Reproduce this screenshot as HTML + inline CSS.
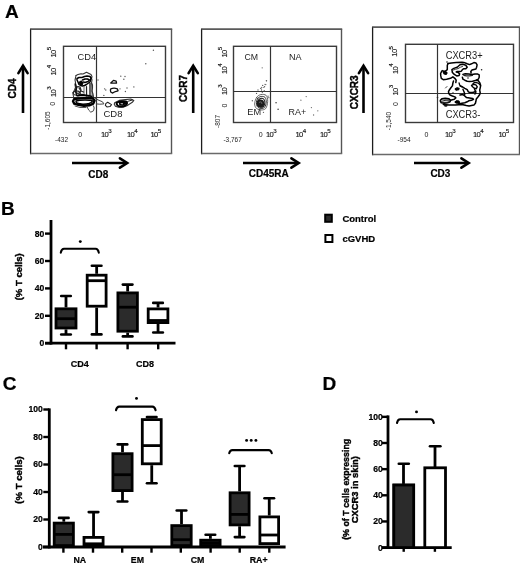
<!DOCTYPE html>
<html><head><meta charset="utf-8"><style>
html,body{margin:0;padding:0;background:#fff;}
svg{display:block;font-family:"Liberation Sans", sans-serif;filter:grayscale(1);}
</style></head><body>
<svg width="520" height="567" viewBox="0 0 520 567" font-family='"Liberation Sans", sans-serif'>
<rect width="520" height="567" fill="#fff"/>
<text x="4.9" y="17.6" font-size="19" font-weight="bold" text-anchor="start" fill="#000" stroke="#000" stroke-width="0.2">A</text>
<text x="1.0" y="215.1" font-size="19" font-weight="bold" text-anchor="start" fill="#000" stroke="#000" stroke-width="0.2">B</text>
<text x="2.8" y="389.7" font-size="19" font-weight="bold" text-anchor="start" fill="#000" stroke="#000" stroke-width="0.2">C</text>
<text x="322.5" y="390.3" font-size="19" font-weight="bold" text-anchor="start" fill="#000" stroke="#000" stroke-width="0.2">D</text>
<line x1="30.6" y1="28.5" x2="30.6" y2="154.29999999999998" stroke="#1c1c1c" stroke-width="1.3" stroke-linecap="butt"/>
<line x1="30.6" y1="29.1" x2="172.2" y2="29.1" stroke="#5a5a5a" stroke-width="1.6" stroke-linecap="butt"/>
<line x1="171.5" y1="29.1" x2="171.5" y2="153.6" stroke="#555" stroke-width="1.4" stroke-linecap="butt"/>
<line x1="30.6" y1="153.6" x2="172.2" y2="153.6" stroke="#6a6a6a" stroke-width="1.5" stroke-linecap="butt"/>
<rect x="63.5" y="46.3" width="102" height="76.2" fill="none" stroke="#3a3a3a" stroke-width="1.4"/>
<line x1="96.5" y1="46" x2="96.5" y2="123" stroke="#333" stroke-width="1.2" stroke-linecap="butt"/>
<line x1="63" y1="97.5" x2="166" y2="97.5" stroke="#333" stroke-width="1.2" stroke-linecap="butt"/>
<line x1="201.6" y1="28.5" x2="201.6" y2="154.29999999999998" stroke="#1c1c1c" stroke-width="1.3" stroke-linecap="butt"/>
<line x1="201.6" y1="29.1" x2="342.2" y2="29.1" stroke="#5a5a5a" stroke-width="1.6" stroke-linecap="butt"/>
<line x1="341.5" y1="29.1" x2="341.5" y2="153.6" stroke="#555" stroke-width="1.4" stroke-linecap="butt"/>
<line x1="201.6" y1="153.6" x2="342.2" y2="153.6" stroke="#6a6a6a" stroke-width="1.5" stroke-linecap="butt"/>
<rect x="233.5" y="46.3" width="103" height="76.2" fill="none" stroke="#3a3a3a" stroke-width="1.4"/>
<line x1="270.5" y1="46" x2="270.5" y2="123" stroke="#333" stroke-width="1.2" stroke-linecap="butt"/>
<line x1="233" y1="91.5" x2="337" y2="91.5" stroke="#333" stroke-width="1.2" stroke-linecap="butt"/>
<line x1="372.6" y1="26.5" x2="372.6" y2="155.29999999999998" stroke="#1c1c1c" stroke-width="1.3" stroke-linecap="butt"/>
<line x1="372.6" y1="27.1" x2="520.2" y2="27.1" stroke="#5a5a5a" stroke-width="1.6" stroke-linecap="butt"/>
<line x1="519.5" y1="27.1" x2="519.5" y2="154.6" stroke="#555" stroke-width="1.4" stroke-linecap="butt"/>
<line x1="372.6" y1="154.6" x2="520.2" y2="154.6" stroke="#6a6a6a" stroke-width="1.5" stroke-linecap="butt"/>
<rect x="405.5" y="44.3" width="108" height="78.2" fill="none" stroke="#3a3a3a" stroke-width="1.4"/>
<line x1="437.5" y1="44" x2="437.5" y2="123" stroke="#333" stroke-width="1.2" stroke-linecap="butt"/>
<line x1="405" y1="93.5" x2="514" y2="93.5" stroke="#333" stroke-width="1.2" stroke-linecap="butt"/>
<line x1="23.0" y1="113" x2="23.0" y2="66.5" stroke="#000" stroke-width="2.6" stroke-linecap="butt"/>
<polyline points="18.4,73.1 23.0,65.8 27.6,73.1" fill="none" stroke="#000" stroke-width="2.6" stroke-linejoin="miter" stroke-linecap="round"/>
<line x1="193.2" y1="113" x2="193.2" y2="66.5" stroke="#000" stroke-width="2.6" stroke-linecap="butt"/>
<polyline points="188.6,73.1 193.2,65.8 197.79999999999998,73.1" fill="none" stroke="#000" stroke-width="2.6" stroke-linejoin="miter" stroke-linecap="round"/>
<line x1="363.5" y1="113" x2="363.5" y2="66.5" stroke="#000" stroke-width="2.6" stroke-linecap="butt"/>
<polyline points="358.9,73.1 363.5,65.8 368.1,73.1" fill="none" stroke="#000" stroke-width="2.6" stroke-linejoin="miter" stroke-linecap="round"/>
<line x1="72" y1="163" x2="126.5" y2="163" stroke="#000" stroke-width="2.6" stroke-linecap="butt"/>
<polyline points="119.9,158.3 127.2,163 119.9,167.7" fill="none" stroke="#000" stroke-width="2.6" stroke-linejoin="miter" stroke-linecap="round"/>
<line x1="243" y1="163" x2="298" y2="163" stroke="#000" stroke-width="2.6" stroke-linecap="butt"/>
<polyline points="291.4,158.3 298.7,163 291.4,167.7" fill="none" stroke="#000" stroke-width="2.6" stroke-linejoin="miter" stroke-linecap="round"/>
<line x1="414" y1="163" x2="468" y2="163" stroke="#000" stroke-width="2.6" stroke-linecap="butt"/>
<polyline points="461.4,158.3 468.7,163 461.4,167.7" fill="none" stroke="#000" stroke-width="2.6" stroke-linejoin="miter" stroke-linecap="round"/>
<text x="16" y="88.5" font-size="10" font-weight="bold" text-anchor="middle" fill="#000" transform="rotate(-90 16 88.5)" stroke="#000" stroke-width="0.4">CD4</text>
<text x="186.7" y="88.5" font-size="10" font-weight="bold" text-anchor="middle" fill="#000" transform="rotate(-90 186.7 88.5)" stroke="#000" stroke-width="0.4">CCR7</text>
<text x="358.5" y="92.3" font-size="10" font-weight="bold" text-anchor="middle" fill="#000" transform="rotate(-90 358.5 92.3)" stroke="#000" stroke-width="0.4">CXCR3</text>
<text x="98.2" y="177.7" font-size="10" font-weight="bold" text-anchor="middle" fill="#000" stroke="#000" stroke-width="0.2">CD8</text>
<text x="268.7" y="177.4" font-size="10" font-weight="bold" text-anchor="middle" fill="#000" stroke="#000" stroke-width="0.2">CD45RA</text>
<text x="440.4" y="177" font-size="10" font-weight="bold" text-anchor="middle" fill="#000" stroke="#000" stroke-width="0.2">CD3</text>
<text x="77.5" y="59.6" font-size="9.8" fill="#1e1e1e" textLength="18.6" lengthAdjust="spacingAndGlyphs">CD4</text>
<text x="103.5" y="117.4" font-size="9.8" fill="#1e1e1e" textLength="19" lengthAdjust="spacingAndGlyphs">CD8</text>
<text x="244.5" y="59.5" font-size="9.6" fill="#1e1e1e" textLength="13.6" lengthAdjust="spacingAndGlyphs">CM</text>
<text x="288.9" y="59.5" font-size="9.6" fill="#1e1e1e" textLength="12.6" lengthAdjust="spacingAndGlyphs">NA</text>
<text x="247.3" y="114.9" font-size="9.6" fill="#1e1e1e" textLength="13.8" lengthAdjust="spacingAndGlyphs">EM</text>
<text x="288.5" y="114.9" font-size="9.6" fill="#1e1e1e" textLength="17.6" lengthAdjust="spacingAndGlyphs">RA+</text>
<text x="445.7" y="58.5" font-size="10.6" fill="#1e1e1e" textLength="37" lengthAdjust="spacingAndGlyphs">CXCR3+</text>
<text x="445.7" y="118" font-size="10.6" fill="#1e1e1e" textLength="34.6" lengthAdjust="spacingAndGlyphs">CXCR3-</text>
<text x="55.5" y="57.5" font-size="7.6" letter-spacing="-0.6" fill="#151515" stroke="#151515" stroke-width="0.15" transform="rotate(-90 55.5 57.5)">10<tspan dy="-4.9" font-size="6.2">5</tspan></text>
<text x="55.5" y="75.5" font-size="7.6" letter-spacing="-0.6" fill="#151515" stroke="#151515" stroke-width="0.15" transform="rotate(-90 55.5 75.5)">10<tspan dy="-4.9" font-size="6.2">4</tspan></text>
<text x="55.5" y="97" font-size="7.6" letter-spacing="-0.6" fill="#151515" stroke="#151515" stroke-width="0.15" transform="rotate(-90 55.5 97)">10<tspan dy="-4.9" font-size="6.2">3</tspan></text>
<text x="55.5" y="103.8" font-size="7" fill="#222" transform="rotate(-90 55.5 103.8)" text-anchor="middle">0</text>
<text x="49.5" y="120.5" font-size="6.5" fill="#222" transform="rotate(-90 49.5 120.5)" text-anchor="middle">-1,605</text>
<text x="226.5" y="57.5" font-size="7.6" letter-spacing="-0.6" fill="#151515" stroke="#151515" stroke-width="0.15" transform="rotate(-90 226.5 57.5)">10<tspan dy="-4.9" font-size="6.2">5</tspan></text>
<text x="226.5" y="74" font-size="7.6" letter-spacing="-0.6" fill="#151515" stroke="#151515" stroke-width="0.15" transform="rotate(-90 226.5 74)">10<tspan dy="-4.9" font-size="6.2">4</tspan></text>
<text x="226.5" y="95" font-size="7.6" letter-spacing="-0.6" fill="#151515" stroke="#151515" stroke-width="0.15" transform="rotate(-90 226.5 95)">10<tspan dy="-4.9" font-size="6.2">3</tspan></text>
<text x="226.5" y="105.5" font-size="7" fill="#222" transform="rotate(-90 226.5 105.5)" text-anchor="middle">0</text>
<text x="219.5" y="121.5" font-size="6.5" fill="#222" transform="rotate(-90 219.5 121.5)" text-anchor="middle">-807</text>
<text x="397.5" y="56.7" font-size="7.6" letter-spacing="-0.6" fill="#151515" stroke="#151515" stroke-width="0.15" transform="rotate(-90 397.5 56.7)">10<tspan dy="-4.9" font-size="6.2">5</tspan></text>
<text x="397.5" y="74" font-size="7.6" letter-spacing="-0.6" fill="#151515" stroke="#151515" stroke-width="0.15" transform="rotate(-90 397.5 74)">10<tspan dy="-4.9" font-size="6.2">4</tspan></text>
<text x="397.5" y="95.5" font-size="7.6" letter-spacing="-0.6" fill="#151515" stroke="#151515" stroke-width="0.15" transform="rotate(-90 397.5 95.5)">10<tspan dy="-4.9" font-size="6.2">3</tspan></text>
<text x="397.5" y="104" font-size="7" fill="#222" transform="rotate(-90 397.5 104)" text-anchor="middle">0</text>
<text x="390.5" y="121" font-size="6.5" fill="#222" transform="rotate(-90 390.5 121)" text-anchor="middle">-1,540</text>
<text x="101" y="137" font-size="7.6" letter-spacing="-0.6" fill="#151515" stroke="#151515" stroke-width="0.15">10<tspan dy="-4.4" font-size="6.2">3</tspan></text>
<text x="127" y="137" font-size="7.6" letter-spacing="-0.6" fill="#151515" stroke="#151515" stroke-width="0.15">10<tspan dy="-4.4" font-size="6.2">4</tspan></text>
<text x="150.5" y="137" font-size="7.6" letter-spacing="-0.6" fill="#151515" stroke="#151515" stroke-width="0.15">10<tspan dy="-4.4" font-size="6.2">5</tspan></text>
<text x="55" y="142" font-size="6.5" fill="#222">-432</text>
<text x="78.2" y="137" font-size="7" fill="#222">0</text>
<text x="266" y="137" font-size="7.6" letter-spacing="-0.6" fill="#151515" stroke="#151515" stroke-width="0.15">10<tspan dy="-4.4" font-size="6.2">3</tspan></text>
<text x="295.5" y="137" font-size="7.6" letter-spacing="-0.6" fill="#151515" stroke="#151515" stroke-width="0.15">10<tspan dy="-4.4" font-size="6.2">4</tspan></text>
<text x="320" y="137" font-size="7.6" letter-spacing="-0.6" fill="#151515" stroke="#151515" stroke-width="0.15">10<tspan dy="-4.4" font-size="6.2">5</tspan></text>
<text x="223.4" y="142" font-size="6.5" fill="#222">-3,767</text>
<text x="258.8" y="137" font-size="7" fill="#222">0</text>
<text x="445" y="137" font-size="7.6" letter-spacing="-0.6" fill="#151515" stroke="#151515" stroke-width="0.15">10<tspan dy="-4.4" font-size="6.2">3</tspan></text>
<text x="473" y="137" font-size="7.6" letter-spacing="-0.6" fill="#151515" stroke="#151515" stroke-width="0.15">10<tspan dy="-4.4" font-size="6.2">4</tspan></text>
<text x="498.5" y="137" font-size="7.6" letter-spacing="-0.6" fill="#151515" stroke="#151515" stroke-width="0.15">10<tspan dy="-4.4" font-size="6.2">5</tspan></text>
<text x="397.5" y="142" font-size="6.5" fill="#222">-954</text>
<text x="424.5" y="137" font-size="7" fill="#222">0</text>
<path d="M76,75.5 L78,74.5 L81,73.75 L83,74 L85,73 L86.5,72.25 L89,73.5 L91,74.5 L92,76.5 L91.5,78.5 L92,80 L91.5,83 L92.5,85 L92.5,88 L92,91 L93,94 L93.5,96.5" fill="none" stroke="#333" stroke-width="1.1" stroke-linejoin="round" stroke-linecap="round"/>
<path d="M76,75.5 L75.5,78 L75,80 L75.5,82.5 L75,85 L75.5,87.5 L74.5,90 L73.5,92 L73,94 L73.5,96.5" fill="none" stroke="#333" stroke-width="1.1" stroke-linejoin="round" stroke-linecap="round"/>
<path d="M77,78.5 L79,77.5 L82,77.5 L84.5,76.5 L87,76 L90,76.5 L91,78 L90.5,80 L90,82 L88.5,83 L86.5,84.5 L84.5,85.5 L82.5,86 L80.5,85.5 L79,84.5 L78,82 L77,80 Z" fill="none" stroke="#000" stroke-width="1.5" stroke-linejoin="round" stroke-linecap="round"/>
<path d="M80,81.5 L81.5,81 L83,83 L82,85 L80.5,84.5 L79.5,83 Z" fill="#000" stroke="#000" stroke-width="1.2" stroke-linejoin="round" stroke-linecap="round"/>
<path d="M82.5,80 L85,79 L87.5,79 L89.5,80 L88,81.5 L85,82.5 L83.5,82" fill="none" stroke="#000" stroke-width="1.4" stroke-linejoin="round" stroke-linecap="round"/>
<path d="M90,83.5 L90,96" fill="none" stroke="#111" stroke-width="1.3" stroke-linejoin="round" stroke-linecap="round"/>
<path d="M91.7,83 L92.2,96" fill="none" stroke="#333" stroke-width="1.0" stroke-linejoin="round" stroke-linecap="round"/>
<path d="M86.5,86.5 L86.6,96" fill="none" stroke="#222" stroke-width="1.2" stroke-linejoin="round" stroke-linecap="round"/>
<path d="M84,86.5 L84,95" fill="none" stroke="#555" stroke-width="0.9" stroke-linejoin="round" stroke-linecap="round"/>
<path d="M76.5,87.5 L78,86.5 L80,87 L81,90 L80,92.5 L78,93.5 L76,92.5 L75.5,90 Z" fill="none" stroke="#222" stroke-width="1.2" stroke-linejoin="round" stroke-linecap="round"/>
<path d="M72.8,92.8 L75.5,90.7 L79,91.4 L80.4,93.5 L78.3,95.5 L74.2,94.8 Z" fill="none" stroke="#222" stroke-width="1.1" stroke-linejoin="round" stroke-linecap="round"/>
<path d="M78,95.5 L82,94.5 L86,95.5 L89,96" fill="none" stroke="#111" stroke-width="1.3" stroke-linejoin="round" stroke-linecap="round"/>
<path d="M74.2,99 L80.4,98.4 L87.3,97.9 L92.9,98.5 L94.6,100.6 L93.3,103.6 L89.4,105.3 L83.9,105.8 L78.3,104.8 L74.2,103.6 L73,101.3 Z" fill="none" stroke="#000" stroke-width="2.4" stroke-linejoin="round" stroke-linecap="round"/>
<path d="M75.5,84 L76.5,88 L75.8,92 L76.8,95.5" fill="none" stroke="#111" stroke-width="1.5" stroke-linejoin="round" stroke-linecap="round"/>
<path d="M77.5,95.8 L83,95.2 L88,95.6 L92,96.4" fill="none" stroke="#000" stroke-width="1.5" stroke-linejoin="round" stroke-linecap="round"/>
<path d="M79,88 L81,91 L83.5,92" fill="none" stroke="#222" stroke-width="1.2" stroke-linejoin="round" stroke-linecap="round"/>
<path d="M76,101 C80,99.8 90,99.6 92.5,101 C91.5,103 88,104.2 83,104.2 C78,104 75.5,103 76,101 Z" fill="none" stroke="#000" stroke-width="1.5"/>
<ellipse cx="84.5" cy="102.2" rx="4.5" ry="0.8" fill="#fff"/>
<path d="M94.9,98.3 L99.1,100.4 L102.5,101.8 L103.9,103.9 L99.8,104.2 L96.3,103.9" fill="none" stroke="#444" stroke-width="1.0" stroke-linejoin="round" stroke-linecap="round"/>
<path d="M87.3,107.3 L88.7,110.1 L90.8,112.2 L93.5,110.8 L94.2,108 L93.5,105.9" fill="none" stroke="#444" stroke-width="1.0" stroke-linejoin="round" stroke-linecap="round"/>
<path d="M75,106 L80,107.5 L86,107.5" fill="none" stroke="#555" stroke-width="1.0" stroke-linejoin="round" stroke-linecap="round"/>
<g transform="translate(100,75) scale(0.07692307692307693)">
<path d="M140,105 L175,70 L210,80 L215,105 Z" fill="none" stroke="#111" stroke-width="16.900000000000002" stroke-linejoin="round" stroke-linecap="round"/>
<path d="M140,180 C160,172 200,170 225,180 L235,205 L200,215 L160,235 L140,222 L135,195 Z" fill="none" stroke="#111" stroke-width="16.900000000000002" stroke-linejoin="round" stroke-linecap="round"/>
<path d="M75,372 L100,355 L150,385 L130,410 L90,415 L70,395 Z" fill="none" stroke="#222" stroke-width="14.3" stroke-linejoin="round" stroke-linecap="round"/>
<path d="M190,362 L250,330 L330,320 L400,312 L440,330 L420,355 L380,380 L350,400 L300,420 L240,420 L200,405 L185,380 Z" fill="none" stroke="#333" stroke-width="14.3" stroke-linejoin="round" stroke-linecap="round"/>
<path d="M215,365 C240,340 320,335 350,350 C360,380 330,405 280,410 C240,412 215,395 215,365 Z" fill="none" stroke="#000" stroke-width="26.0" stroke-linejoin="round" stroke-linecap="round"/>
<path d="M245,350 L330,340 L345,375 L300,400 L250,395 Z" fill="#000"/>
<path d="M260,372 L300,368 L290,385 Z" fill="#fff"/>
<path d="M370,340 L420,325" fill="none" stroke="#222" stroke-width="13.0" stroke-linejoin="round" stroke-linecap="round"/>
<circle cx="270" cy="15" r="9.1" fill="#555"/>
<circle cx="310" cy="55" r="9.1" fill="#555"/>
<circle cx="325" cy="20" r="9.1" fill="#555"/>
<circle cx="260" cy="180" r="9.1" fill="#555"/>
<circle cx="330" cy="215" r="9.1" fill="#555"/>
<circle cx="440" cy="155" r="9.1" fill="#555"/>
<circle cx="60" cy="180" r="9.1" fill="#555"/>
<circle cx="75" cy="195" r="9.1" fill="#555"/>
<circle cx="50" cy="265" r="9.1" fill="#555"/>
</g>
<circle cx="153.4" cy="50.3" r="0.7" fill="#555"/>
<circle cx="145.8" cy="63.8" r="0.7" fill="#555"/>
<circle cx="98" cy="80" r="0.7" fill="#555"/>
<circle cx="127" cy="88" r="0.7" fill="#555"/>
<g transform="translate(245,80) scale(0.07692307692307693)">
<path d="M150,230 C170,185 240,175 275,200 C305,235 300,320 270,370 C240,400 170,395 140,360 C115,320 125,270 150,230 Z" fill="none" stroke="#555" stroke-width="11.700000000000001" stroke-linejoin="round" stroke-linecap="round"/>
<path d="M165,240 C185,210 235,205 260,225 C285,255 280,320 255,355 C230,380 180,375 160,345 C140,310 145,270 165,240 Z" fill="none" stroke="#333" stroke-width="13.0" stroke-linejoin="round" stroke-linecap="round"/>
<path d="M180,255 C195,235 230,232 245,250 C265,275 262,320 240,345 C220,362 185,355 172,330 C160,305 165,275 180,255 Z" fill="none" stroke="#222" stroke-width="14.3" stroke-linejoin="round" stroke-linecap="round"/>
<ellipse cx="200" cy="305" rx="50" ry="52" fill="#1a1a1a"/>
<path d="M185,290 C200,275 225,285 220,305" fill="none" stroke="#888" stroke-width="9.1" stroke-linejoin="round" stroke-linecap="round"/>
<circle cx="230" cy="70" r="8.450000000000001" fill="#555"/>
<circle cx="245" cy="95" r="8.450000000000001" fill="#555"/>
<circle cx="255" cy="85" r="8.450000000000001" fill="#555"/>
<circle cx="270" cy="60" r="8.450000000000001" fill="#555"/>
<circle cx="205" cy="110" r="8.450000000000001" fill="#555"/>
<circle cx="215" cy="130" r="8.450000000000001" fill="#555"/>
<circle cx="280" cy="10" r="8.450000000000001" fill="#555"/>
<circle cx="150" cy="175" r="8.450000000000001" fill="#555"/>
<circle cx="95" cy="270" r="8.450000000000001" fill="#555"/>
<circle cx="300" cy="210" r="8.450000000000001" fill="#555"/>
<circle cx="310" cy="230" r="8.450000000000001" fill="#555"/>
<circle cx="405" cy="295" r="8.450000000000001" fill="#555"/>
<circle cx="430" cy="380" r="8.450000000000001" fill="#555"/>
<circle cx="240" cy="420" r="8.450000000000001" fill="#555"/>
<circle cx="225" cy="160" r="8.450000000000001" fill="#555"/>
<circle cx="250" cy="140" r="8.450000000000001" fill="#555"/>
</g>
<circle cx="276" cy="102.7" r="0.65" fill="#666"/>
<circle cx="278.2" cy="109.3" r="0.65" fill="#666"/>
<circle cx="300.9" cy="100.2" r="0.65" fill="#666"/>
<circle cx="306.2" cy="96.6" r="0.65" fill="#666"/>
<circle cx="311.4" cy="107.6" r="0.65" fill="#666"/>
<circle cx="313.6" cy="115" r="0.65" fill="#666"/>
<circle cx="317.8" cy="110.8" r="0.65" fill="#666"/>
<circle cx="262.2" cy="67.8" r="0.65" fill="#666"/>
<circle cx="266.4" cy="80.7" r="0.65" fill="#666"/>
<circle cx="265" cy="84.3" r="0.65" fill="#666"/>
<circle cx="261.7" cy="87.5" r="0.65" fill="#666"/>
<circle cx="258" cy="90" r="0.65" fill="#666"/>
<path d="M448,63.6 L451.4,62.9 L456.2,62.6 L462,62.2 L463.8,62.4 L467.2,63.8 L469.6,64.6 L471.5,63.8 L473.9,62.6 L475.9,62.9 L477.1,64.8 L476.6,67.2 L475.9,69.1 L473.9,69.6 L472,70.1 L470.8,71.5 L471.1,73" fill="none" stroke="#000" stroke-width="1.5" stroke-linejoin="round" stroke-linecap="round"/>
<path d="M448,63.6 L447.3,65.3 L447.3,67.2 L447.3,69.6 L445.7,71 L444.6,71.5 L442.2,70.6 L441.8,71.1 L440.6,73.5 L440.8,75.9 L441.3,78.3 L443.3,79.7 L446.6,79.2 L450.5,78.3 L452.9,76.8 L454.8,78.3 L456.2,80.2 L455.8,82.6" fill="none" stroke="#000" stroke-width="1.5" stroke-linejoin="round" stroke-linecap="round"/>
<path d="M453.5,81 L452.9,83 L452.4,85.9 L450.9,87.8 L449.5,89.7 L448.5,91.7 L448.8,93.6 L450,95 L452.4,96 L454.8,96.9 L455.8,97.9 L454.3,99.3 L452.4,99.8 L450.5,100.3" fill="none" stroke="#000" stroke-width="1.5" stroke-linejoin="round" stroke-linecap="round"/>
<path d="M443.3,71.5 L445.2,71.3 L447.1,73 L446.1,74.4 L444.2,73.9 L443.3,72.5 Z" fill="#000" stroke="#000" stroke-width="1.2" stroke-linejoin="round" stroke-linecap="round"/>
<path d="M451.9,69.6 L453.8,68.4 L457.2,67.2 L460,64.8 L462.9,64.3 L465.8,65.3 L467.2,67.2 L465.8,68.7 L463.8,68.7 L462.4,69.6 L461.4,71.1 L460,71.5 L457.2,71.5 L456.2,72 L458.2,72.5 L459.6,73.9 L459.1,75.4 L456.7,75.9 L454.3,74.4 L452.4,72.5 Z" fill="none" stroke="#000" stroke-width="1.5" stroke-linejoin="round" stroke-linecap="round"/>
<path d="M453.5,70 L455.5,69.3 L458,68.6 L460.5,67.2 L462.5,66.5" fill="none" stroke="#333" stroke-width="1.0" stroke-linejoin="round" stroke-linecap="round"/>
<path d="M462.9,74.4 L465.3,73.7 L468.7,73.9 L472,74.4 L474.9,73.9 L477.3,73.9 L479.2,74.9 L479.2,77.3 L478.3,79.2 L476.3,80.2" fill="none" stroke="#000" stroke-width="1.5" stroke-linejoin="round" stroke-linecap="round"/>
<path d="M463.8,75.4 L466.3,75.9 L469.6,75.9 L472.5,75.4" fill="none" stroke="#222" stroke-width="1.2" stroke-linejoin="round" stroke-linecap="round"/>
<path d="M462.4,77.3 L462.9,79.2 L464.8,80.2 L467.2,81.2 L469.6,81.6 L472.5,81.2 L474.4,80.7 L476.8,80.2 L478.3,80.7 L479.7,82.6 L480.7,85.4 L480.2,87.8 L479.7,90.2 L480.2,92.6 L479.7,94.5 L478.3,96.5 L476.3,98.9 L475.9,101.3 L475.4,103.2 L473.9,105.1 L471.5,105.6 L469.1,106.1 L466.3,105.6 L462,104.6 L455.3,105.1 L449,105.1 L443.3,104.6" fill="none" stroke="#000" stroke-width="1.5" stroke-linejoin="round" stroke-linecap="round"/>
<path d="M473,83.6 L474.4,82.6 L476.3,82.6 L478.3,83.1 L480.2,85" fill="none" stroke="#000" stroke-width="1.3" stroke-linejoin="round" stroke-linecap="round"/>
<path d="M460,85.9 L462.4,86.8 L464.8,88.3 L467.2,89.7 L468.2,91.7 L469.6,92.6 L472.5,92.6 L474.4,92.1 L475.9,91.2" fill="none" stroke="#000" stroke-width="1.5" stroke-linejoin="round" stroke-linecap="round"/>
<path d="M471.5,85.4 L473.5,84.4 L475.9,84.9 L477.3,86.8 L476.3,88.8 L474.4,88.3 L472.5,86.8 Z" fill="none" stroke="#000" stroke-width="1.4" stroke-linejoin="round" stroke-linecap="round"/>
<path d="M474.4,88.8 L475.4,91.2 L475.9,93.1 L474.9,94.1" fill="none" stroke="#000" stroke-width="1.4" stroke-linejoin="round" stroke-linecap="round"/>
<path d="M460,95 L462.9,94.5 L464.8,96 L466.3,97.4 L469.6,97.9 L472.5,98.4 L473.5,99.3 L471.5,100.3 L468.7,100.8 L467.2,101.8 L464.8,102.7 L461.9,103.2 L460,103.7 L458.2,103 L456.2,102.7 L455.3,102 L456.7,101 L458.6,101.3" fill="none" stroke="#000" stroke-width="1.5" stroke-linejoin="round" stroke-linecap="round"/>
<path d="M462.9,89.3 L463.8,91.2 L464.8,94.1 L464.3,95.5" fill="none" stroke="#000" stroke-width="1.4" stroke-linejoin="round" stroke-linecap="round"/>
<path d="M459.1,83 L459.6,84.9 L461,86.4 L462,86.8" fill="none" stroke="#000" stroke-width="1.3" stroke-linejoin="round" stroke-linecap="round"/>
<path d="M440.4,100.3 L441.8,98.9 L445.2,98.4 L449,98.9 L450.5,100.3 L450,101.8 L447.6,102.7 L444.2,103.2 L441.3,102.7 L440.4,101.3 Z" fill="none" stroke="#000" stroke-width="1.6" stroke-linejoin="round" stroke-linecap="round"/>
<path d="M441.8,101.3 L445.7,100.3 L449,100.3" fill="none" stroke="#222" stroke-width="1.1" stroke-linejoin="round" stroke-linecap="round"/>
<path d="M442.3,102.5 L446.6,102.2 L449.5,102" fill="none" stroke="#222" stroke-width="1.1" stroke-linejoin="round" stroke-linecap="round"/>
<path d="M455.3,88.8 L457.2,87.8 L459.1,88.3 L458.6,89.7 L456.2,90.2 L455.3,89.3 Z" fill="#000" stroke="#000" stroke-width="1.2" stroke-linejoin="round" stroke-linecap="round"/>
<path d="M455.3,102 L456.7,101 L458.6,101.3 L459.6,102.2 L458.2,103 L456.2,102.7 Z" fill="#000" stroke="#000" stroke-width="1.2" stroke-linejoin="round" stroke-linecap="round"/>
<ellipse cx="445.8" cy="105.6" rx="1.8" ry="1.2" fill="#111"/>
<path d="M445.5,88 L447,86.5" fill="none" stroke="#444" stroke-width="1.0" stroke-linejoin="round" stroke-linecap="round"/>
<circle cx="447" cy="62" r="0.8" fill="#222"/>
<circle cx="481.6" cy="69.8" r="0.8" fill="#222"/>
<circle cx="437.5" cy="97.6" r="0.8" fill="#222"/>
<circle cx="468" cy="78" r="0.8" fill="#222"/>
<circle cx="453" cy="93" r="0.8" fill="#222"/>
<line x1="51" y1="220" x2="51" y2="344.59999999999997" stroke="#000" stroke-width="2.8" stroke-linecap="butt"/>
<line x1="45" y1="343.2" x2="51" y2="343.2" stroke="#000" stroke-width="2.4" stroke-linecap="butt"/>
<text x="44.3" y="346.09999999999997" font-size="8.6" font-weight="bold" text-anchor="end" stroke="#000" stroke-width="0.2">0</text>
<line x1="45" y1="315.8" x2="51" y2="315.8" stroke="#000" stroke-width="2.4" stroke-linecap="butt"/>
<text x="44.3" y="318.7" font-size="8.6" font-weight="bold" text-anchor="end" stroke="#000" stroke-width="0.2">20</text>
<line x1="45" y1="288.4" x2="51" y2="288.4" stroke="#000" stroke-width="2.4" stroke-linecap="butt"/>
<text x="44.3" y="291.29999999999995" font-size="8.6" font-weight="bold" text-anchor="end" stroke="#000" stroke-width="0.2">40</text>
<line x1="45" y1="261.0" x2="51" y2="261.0" stroke="#000" stroke-width="2.4" stroke-linecap="butt"/>
<text x="44.3" y="263.9" font-size="8.6" font-weight="bold" text-anchor="end" stroke="#000" stroke-width="0.2">60</text>
<line x1="45" y1="233.59999999999997" x2="51" y2="233.59999999999997" stroke="#000" stroke-width="2.4" stroke-linecap="butt"/>
<text x="44.3" y="236.49999999999997" font-size="8.6" font-weight="bold" text-anchor="end" stroke="#000" stroke-width="0.2">80</text>
<line x1="45" y1="343.2" x2="175.5" y2="343.2" stroke="#000" stroke-width="2.8" stroke-linecap="butt"/>
<line x1="66" y1="343.2" x2="66" y2="349.3" stroke="#000" stroke-width="2.4" stroke-linecap="butt"/>
<line x1="96.6" y1="343.2" x2="96.6" y2="349.3" stroke="#000" stroke-width="2.4" stroke-linecap="butt"/>
<line x1="127.6" y1="343.2" x2="127.6" y2="349.3" stroke="#000" stroke-width="2.4" stroke-linecap="butt"/>
<line x1="158.2" y1="343.2" x2="158.2" y2="349.3" stroke="#000" stroke-width="2.4" stroke-linecap="butt"/>
<line x1="66.0" y1="296" x2="66.0" y2="307.4" stroke="#000" stroke-width="2.8" stroke-linecap="butt"/>
<line x1="61.2" y1="296" x2="70.8" y2="296" stroke="#000" stroke-width="2.6" stroke-linecap="round"/>
<line x1="66.0" y1="329.4" x2="66.0" y2="334.5" stroke="#000" stroke-width="2.8" stroke-linecap="butt"/>
<line x1="61.2" y1="334.5" x2="70.8" y2="334.5" stroke="#000" stroke-width="2.6" stroke-linecap="round"/>
<rect x="56.0" y="308.79999999999995" width="20.000000000000004" height="19.2" fill="#2b2b2b" stroke="#000" stroke-width="2.8"/>
<line x1="56.0" y1="318.7" x2="76.0" y2="318.7" stroke="#000" stroke-width="2.8" stroke-linecap="butt"/>
<line x1="96.65" y1="265.8" x2="96.65" y2="273.8" stroke="#000" stroke-width="2.8" stroke-linecap="butt"/>
<line x1="91.85000000000001" y1="265.8" x2="101.45" y2="265.8" stroke="#000" stroke-width="2.6" stroke-linecap="round"/>
<line x1="96.65" y1="307.6" x2="96.65" y2="334.4" stroke="#000" stroke-width="2.8" stroke-linecap="butt"/>
<line x1="91.85000000000001" y1="334.4" x2="101.45" y2="334.4" stroke="#000" stroke-width="2.6" stroke-linecap="round"/>
<rect x="87.2" y="275.2" width="18.900000000000002" height="31.00000000000001" fill="#fff" stroke="#000" stroke-width="2.8"/>
<line x1="87.2" y1="280.7" x2="106.1" y2="280.7" stroke="#000" stroke-width="2.8" stroke-linecap="butt"/>
<line x1="127.65" y1="284.6" x2="127.65" y2="291.5" stroke="#000" stroke-width="2.8" stroke-linecap="butt"/>
<line x1="122.85000000000001" y1="284.6" x2="132.45000000000002" y2="284.6" stroke="#000" stroke-width="2.6" stroke-linecap="round"/>
<line x1="127.65" y1="332.6" x2="127.65" y2="336.4" stroke="#000" stroke-width="2.8" stroke-linecap="butt"/>
<line x1="122.85000000000001" y1="336.4" x2="132.45000000000002" y2="336.4" stroke="#000" stroke-width="2.6" stroke-linecap="round"/>
<rect x="117.9" y="292.9" width="19.50000000000001" height="38.300000000000026" fill="#2b2b2b" stroke="#000" stroke-width="2.8"/>
<line x1="117.9" y1="307.2" x2="137.4" y2="307.2" stroke="#000" stroke-width="2.8" stroke-linecap="butt"/>
<line x1="158.05" y1="302.9" x2="158.05" y2="307.5" stroke="#000" stroke-width="2.8" stroke-linecap="butt"/>
<line x1="153.25" y1="302.9" x2="162.85000000000002" y2="302.9" stroke="#000" stroke-width="2.6" stroke-linecap="round"/>
<line x1="158.05" y1="324" x2="158.05" y2="332.5" stroke="#000" stroke-width="2.8" stroke-linecap="butt"/>
<line x1="153.25" y1="332.5" x2="162.85000000000002" y2="332.5" stroke="#000" stroke-width="2.6" stroke-linecap="round"/>
<rect x="148.20000000000002" y="308.9" width="19.7" height="13.7" fill="#fff" stroke="#000" stroke-width="2.8"/>
<line x1="148.20000000000002" y1="320.5" x2="167.9" y2="320.5" stroke="#000" stroke-width="2.8" stroke-linecap="butt"/>
<path d="M60.8,252.6 Q61.599999999999994,248.8 64.0,248.8 L95.6,248.8 Q98.0,248.8 98.8,252.6" fill="none" stroke="#000" stroke-width="2.1" stroke-linecap="round"/>
<circle cx="80.3" cy="241.6" r="1.45" fill="#000"/>
<text x="79.8" y="367" font-size="9" font-weight="bold" text-anchor="middle" fill="#000" stroke="#000" stroke-width="0.2">CD4</text>
<text x="144.9" y="367" font-size="9" font-weight="bold" text-anchor="middle" fill="#000" stroke="#000" stroke-width="0.2">CD8</text>
<text x="22.2" y="276.8" font-size="9.5" font-weight="bold" text-anchor="middle" fill="#000" transform="rotate(-90 22.2 276.8)" stroke="#000" stroke-width="0.4">(% T cells)</text>
<rect x="325.2" y="214.7" width="6.6" height="7.1" fill="#2b2b2b" stroke="#000" stroke-width="2"/>
<text x="342.4" y="221.9" font-size="9.5" font-weight="bold" text-anchor="start" fill="#000" stroke="#000" stroke-width="0.2">Control</text>
<rect x="325.4" y="235" width="7" height="7" fill="#fff" stroke="#000" stroke-width="2"/>
<text x="342.4" y="242.4" font-size="9.5" font-weight="bold" text-anchor="start" fill="#000" stroke="#000" stroke-width="0.2">cGVHD</text>
<line x1="49.3" y1="408.4" x2="49.3" y2="548.4" stroke="#000" stroke-width="2.8" stroke-linecap="butt"/>
<line x1="43.3" y1="547.0" x2="49.3" y2="547.0" stroke="#000" stroke-width="2.4" stroke-linecap="butt"/>
<text x="42.8" y="549.9" font-size="8.6" font-weight="bold" text-anchor="end" stroke="#000" stroke-width="0.2">0</text>
<line x1="43.3" y1="519.5" x2="49.3" y2="519.5" stroke="#000" stroke-width="2.4" stroke-linecap="butt"/>
<text x="42.8" y="522.4" font-size="8.6" font-weight="bold" text-anchor="end" stroke="#000" stroke-width="0.2">20</text>
<line x1="43.3" y1="492.0" x2="49.3" y2="492.0" stroke="#000" stroke-width="2.4" stroke-linecap="butt"/>
<text x="42.8" y="494.9" font-size="8.6" font-weight="bold" text-anchor="end" stroke="#000" stroke-width="0.2">40</text>
<line x1="43.3" y1="464.5" x2="49.3" y2="464.5" stroke="#000" stroke-width="2.4" stroke-linecap="butt"/>
<text x="42.8" y="467.4" font-size="8.6" font-weight="bold" text-anchor="end" stroke="#000" stroke-width="0.2">60</text>
<line x1="43.3" y1="437.0" x2="49.3" y2="437.0" stroke="#000" stroke-width="2.4" stroke-linecap="butt"/>
<text x="42.8" y="439.9" font-size="8.6" font-weight="bold" text-anchor="end" stroke="#000" stroke-width="0.2">80</text>
<line x1="43.3" y1="409.5" x2="49.3" y2="409.5" stroke="#000" stroke-width="2.4" stroke-linecap="butt"/>
<text x="42.8" y="412.4" font-size="8.6" font-weight="bold" text-anchor="end" stroke="#000" stroke-width="0.2">100</text>
<line x1="43" y1="547" x2="285.6" y2="547" stroke="#000" stroke-width="2.8" stroke-linecap="butt"/>
<line x1="63.4" y1="547" x2="63.4" y2="552.7" stroke="#000" stroke-width="2.4" stroke-linecap="butt"/>
<line x1="93" y1="547" x2="93" y2="552.7" stroke="#000" stroke-width="2.4" stroke-linecap="butt"/>
<line x1="122.2" y1="547" x2="122.2" y2="552.7" stroke="#000" stroke-width="2.4" stroke-linecap="butt"/>
<line x1="151.5" y1="547" x2="151.5" y2="552.7" stroke="#000" stroke-width="2.4" stroke-linecap="butt"/>
<line x1="180.8" y1="547" x2="180.8" y2="552.7" stroke="#000" stroke-width="2.4" stroke-linecap="butt"/>
<line x1="210.6" y1="547" x2="210.6" y2="552.7" stroke="#000" stroke-width="2.4" stroke-linecap="butt"/>
<line x1="239.7" y1="547" x2="239.7" y2="552.7" stroke="#000" stroke-width="2.4" stroke-linecap="butt"/>
<line x1="269.3" y1="547" x2="269.3" y2="552.7" stroke="#000" stroke-width="2.4" stroke-linecap="butt"/>
<line x1="63.8" y1="517.9" x2="63.8" y2="521.7" stroke="#000" stroke-width="2.8" stroke-linecap="butt"/>
<line x1="59.0" y1="517.9" x2="68.6" y2="517.9" stroke="#000" stroke-width="2.6" stroke-linecap="round"/>
<rect x="54.199999999999996" y="523.1" width="19.2" height="22.499999999999954" fill="#2b2b2b" stroke="#000" stroke-width="2.8"/>
<line x1="54.199999999999996" y1="534.4" x2="73.39999999999999" y2="534.4" stroke="#000" stroke-width="2.8" stroke-linecap="butt"/>
<line x1="93.55" y1="512.1" x2="93.55" y2="536" stroke="#000" stroke-width="2.8" stroke-linecap="butt"/>
<line x1="88.75" y1="512.1" x2="98.35" y2="512.1" stroke="#000" stroke-width="2.6" stroke-linecap="round"/>
<rect x="84.0" y="537.4" width="19.100000000000005" height="8.2" fill="#fff" stroke="#000" stroke-width="2.8"/>
<line x1="84.0" y1="543.8" x2="103.1" y2="543.8" stroke="#000" stroke-width="2.8" stroke-linecap="butt"/>
<line x1="122.5" y1="444.4" x2="122.5" y2="452.3" stroke="#000" stroke-width="2.8" stroke-linecap="butt"/>
<line x1="117.7" y1="444.4" x2="127.3" y2="444.4" stroke="#000" stroke-width="2.6" stroke-linecap="round"/>
<line x1="122.5" y1="492" x2="122.5" y2="501.5" stroke="#000" stroke-width="2.8" stroke-linecap="butt"/>
<line x1="117.7" y1="501.5" x2="127.3" y2="501.5" stroke="#000" stroke-width="2.6" stroke-linecap="round"/>
<rect x="112.9" y="453.7" width="19.2" height="36.89999999999999" fill="#2b2b2b" stroke="#000" stroke-width="2.8"/>
<line x1="112.9" y1="474.7" x2="132.1" y2="474.7" stroke="#000" stroke-width="2.8" stroke-linecap="butt"/>
<line x1="151.75" y1="417" x2="151.75" y2="418.2" stroke="#000" stroke-width="2.8" stroke-linecap="butt"/>
<line x1="146.95" y1="417" x2="156.55" y2="417" stroke="#000" stroke-width="2.6" stroke-linecap="round"/>
<line x1="151.75" y1="465.2" x2="151.75" y2="483.2" stroke="#000" stroke-width="2.8" stroke-linecap="butt"/>
<line x1="146.95" y1="483.2" x2="156.55" y2="483.2" stroke="#000" stroke-width="2.6" stroke-linecap="round"/>
<rect x="142.3" y="419.59999999999997" width="18.899999999999988" height="44.2" fill="#fff" stroke="#000" stroke-width="2.8"/>
<line x1="142.3" y1="445.6" x2="161.2" y2="445.6" stroke="#000" stroke-width="2.8" stroke-linecap="butt"/>
<line x1="181.5" y1="510.5" x2="181.5" y2="524.2" stroke="#000" stroke-width="2.8" stroke-linecap="butt"/>
<line x1="176.7" y1="510.5" x2="186.3" y2="510.5" stroke="#000" stroke-width="2.6" stroke-linecap="round"/>
<rect x="171.8" y="525.6" width="19.399999999999988" height="19.999999999999954" fill="#2b2b2b" stroke="#000" stroke-width="2.8"/>
<line x1="171.8" y1="539.7" x2="191.2" y2="539.7" stroke="#000" stroke-width="2.8" stroke-linecap="butt"/>
<line x1="210.4" y1="534.7" x2="210.4" y2="538.8" stroke="#000" stroke-width="2.8" stroke-linecap="butt"/>
<line x1="205.6" y1="534.7" x2="215.20000000000002" y2="534.7" stroke="#000" stroke-width="2.6" stroke-linecap="round"/>
<rect x="200.70000000000002" y="540.1999999999999" width="19.399999999999988" height="5.400000000000046" fill="#2b2b2b" stroke="#000" stroke-width="2.8"/>
<line x1="200.70000000000002" y1="543" x2="220.1" y2="543" stroke="#000" stroke-width="2.8" stroke-linecap="butt"/>
<line x1="239.6" y1="466" x2="239.6" y2="491.4" stroke="#000" stroke-width="2.8" stroke-linecap="butt"/>
<line x1="234.79999999999998" y1="466" x2="244.4" y2="466" stroke="#000" stroke-width="2.6" stroke-linecap="round"/>
<line x1="239.6" y1="526.3" x2="239.6" y2="537.1" stroke="#000" stroke-width="2.8" stroke-linecap="butt"/>
<line x1="234.79999999999998" y1="537.1" x2="244.4" y2="537.1" stroke="#000" stroke-width="2.6" stroke-linecap="round"/>
<rect x="230.1" y="492.79999999999995" width="19.00000000000001" height="32.09999999999998" fill="#2b2b2b" stroke="#000" stroke-width="2.8"/>
<line x1="230.1" y1="514.4" x2="249.1" y2="514.4" stroke="#000" stroke-width="2.8" stroke-linecap="butt"/>
<line x1="269.25" y1="498.3" x2="269.25" y2="515.5" stroke="#000" stroke-width="2.8" stroke-linecap="butt"/>
<line x1="264.45" y1="498.3" x2="274.05" y2="498.3" stroke="#000" stroke-width="2.6" stroke-linecap="round"/>
<rect x="259.9" y="516.9" width="18.7" height="26.7" fill="#fff" stroke="#000" stroke-width="2.8"/>
<line x1="259.9" y1="535" x2="278.6" y2="535" stroke="#000" stroke-width="2.8" stroke-linecap="butt"/>
<path d="M116,410.3 Q116.8,406.6 119.2,406.6 L152.4,406.6 Q154.79999999999998,406.6 155.6,410.3" fill="none" stroke="#000" stroke-width="2.1" stroke-linecap="round"/>
<circle cx="136.5" cy="398.4" r="1.45" fill="#000"/>
<path d="M229.2,453.2 Q230.0,450.1 232.39999999999998,450.1 L268.6,450.1 Q271.0,450.1 271.8,453.2" fill="none" stroke="#000" stroke-width="2.1" stroke-linecap="round"/>
<circle cx="246.6" cy="440.4" r="1.45" fill="#000"/>
<circle cx="251.2" cy="440.4" r="1.45" fill="#000"/>
<circle cx="255.9" cy="440.4" r="1.45" fill="#000"/>
<text x="79.8" y="563.2" font-size="8.8" font-weight="bold" text-anchor="middle" fill="#000" stroke="#000" stroke-width="0.2">NA</text>
<text x="137.4" y="563.2" font-size="8.8" font-weight="bold" text-anchor="middle" fill="#000" stroke="#000" stroke-width="0.2">EM</text>
<text x="197.6" y="563.2" font-size="8.8" font-weight="bold" text-anchor="middle" fill="#000" stroke="#000" stroke-width="0.2">CM</text>
<text x="258.6" y="563.2" font-size="8.8" font-weight="bold" text-anchor="middle" fill="#000" stroke="#000" stroke-width="0.2">RA+</text>
<text x="22" y="480" font-size="9.6" font-weight="bold" text-anchor="middle" fill="#000" transform="rotate(-90 22 480)" stroke="#000" stroke-width="0.4">(% T cells)</text>
<line x1="388" y1="415.4" x2="388" y2="549.0" stroke="#000" stroke-width="2.8" stroke-linecap="butt"/>
<line x1="382" y1="547.6" x2="388" y2="547.6" stroke="#000" stroke-width="2.4" stroke-linecap="butt"/>
<text x="382.9" y="550.5" font-size="8.6" font-weight="bold" text-anchor="end" stroke="#000" stroke-width="0.2">0</text>
<line x1="382" y1="521.45" x2="388" y2="521.45" stroke="#000" stroke-width="2.4" stroke-linecap="butt"/>
<text x="382.9" y="524.35" font-size="8.6" font-weight="bold" text-anchor="end" stroke="#000" stroke-width="0.2">20</text>
<line x1="382" y1="495.3" x2="388" y2="495.3" stroke="#000" stroke-width="2.4" stroke-linecap="butt"/>
<text x="382.9" y="498.2" font-size="8.6" font-weight="bold" text-anchor="end" stroke="#000" stroke-width="0.2">40</text>
<line x1="382" y1="469.15000000000003" x2="388" y2="469.15000000000003" stroke="#000" stroke-width="2.4" stroke-linecap="butt"/>
<text x="382.9" y="472.05" font-size="8.6" font-weight="bold" text-anchor="end" stroke="#000" stroke-width="0.2">60</text>
<line x1="382" y1="443.0" x2="388" y2="443.0" stroke="#000" stroke-width="2.4" stroke-linecap="butt"/>
<text x="382.9" y="445.9" font-size="8.6" font-weight="bold" text-anchor="end" stroke="#000" stroke-width="0.2">80</text>
<line x1="382" y1="416.85" x2="388" y2="416.85" stroke="#000" stroke-width="2.4" stroke-linecap="butt"/>
<text x="382.9" y="419.75" font-size="8.6" font-weight="bold" text-anchor="end" stroke="#000" stroke-width="0.2">100</text>
<line x1="382" y1="547.6" x2="451.7" y2="547.6" stroke="#000" stroke-width="2.8" stroke-linecap="butt"/>
<line x1="403.7" y1="547.6" x2="403.7" y2="551.8" stroke="#000" stroke-width="2.4" stroke-linecap="butt"/>
<line x1="434.9" y1="547.6" x2="434.9" y2="551.8" stroke="#000" stroke-width="2.4" stroke-linecap="butt"/>
<line x1="403.5" y1="463.7" x2="403.5" y2="484" stroke="#000" stroke-width="2.8" stroke-linecap="butt"/>
<line x1="398.8" y1="463.7" x2="408.8" y2="463.7" stroke="#000" stroke-width="2.6" stroke-linecap="round"/>
<line x1="435" y1="446.2" x2="435" y2="467" stroke="#000" stroke-width="2.8" stroke-linecap="butt"/>
<line x1="430" y1="446.2" x2="440.4" y2="446.2" stroke="#000" stroke-width="2.6" stroke-linecap="round"/>
<rect x="392.5" y="483.7" width="22.5" height="63.900000000000034" fill="#2b2b2b" stroke="#000" stroke-width="0"/>
<rect x="393.8" y="485" width="19.9" height="62.60000000000002" fill="none" stroke="#000" stroke-width="2.8"/>
<rect x="424.8" y="467.8" width="20.7" height="79.80000000000001" fill="#fff" stroke="#000" stroke-width="2.8"/>
<path d="M397,422.9 Q397.8,419.3 400.2,419.3 L430.6,419.3 Q433.0,419.3 433.8,422.9" fill="none" stroke="#000" stroke-width="2.1" stroke-linecap="round"/>
<circle cx="416.5" cy="411.9" r="1.45" fill="#000"/>
<text x="348.7" y="489.3" font-size="8.9" font-weight="bold" text-anchor="middle" fill="#000" transform="rotate(-90 348.7 489.3)" stroke="#000" stroke-width="0.4">(% of T cells expressing</text>
<text x="358.3" y="489.7" font-size="9.4" font-weight="bold" text-anchor="middle" fill="#000" transform="rotate(-90 358.3 489.7)" stroke="#000" stroke-width="0.4">CXCR3 in skin)</text>
</svg>
</body></html>
